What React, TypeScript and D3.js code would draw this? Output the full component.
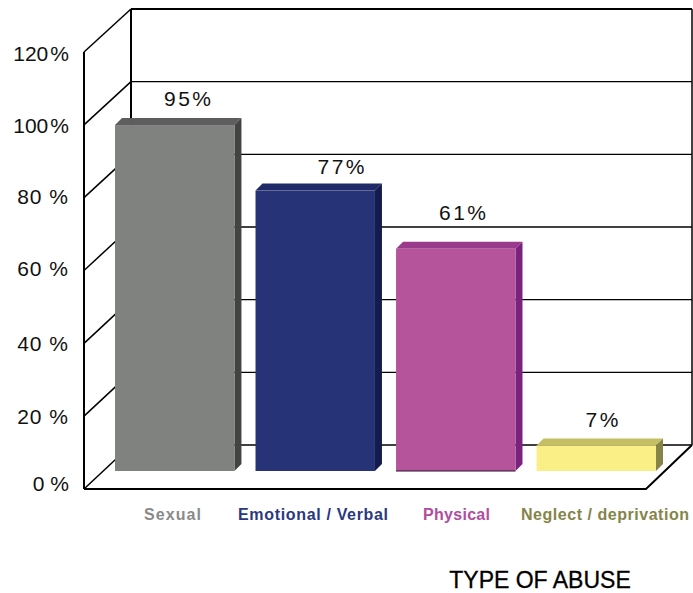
import React from 'react';
import * as d3 from 'd3';

const categories = ['Sexual', 'Emotional / Verbal', 'Physical', 'Neglect / deprivation'];
const values = [95, 77, 61, 7];
const valueLabels = ['95%', '77%', '61%', '7%'];
const yTicks = [0, 20, 40, 60, 80, 100, 120];
const frontColours = ['#808280', '#273377', '#b6549b', '#faee86'];
const topColours = ['#5e5e5e', '#1f2a66', '#9a3a8a', '#c4bf63'];
const sideColours = ['#434343', '#141c4e', '#7b2180', '#858549'];
const labelColours = ['#8a8a8a', '#2b3880', '#b04da0', '#858549'];

const width = 693;
const height = 593;
const font = '"Liberation Sans", Arial, sans-serif';

// front edge of the chart floor, back wall has its own scale
const y = d3.scaleLinear().domain([0, 120]).range([489, 52]);
const yBack = d3.scaleLinear().domain([0, 120]).range([445, 9]);
const yLabel = d3.scaleLinear().domain([0, 120]).range([491, 61]);
const x = d3.scaleBand<string>().domain(categories).range([115, 656]).paddingInner(0.15);
const frontLeft = 84;
const frontRight = 646;
const backLeft = 131;
const backRight = 692;
const barLift = 18;
const barDepth = 7;

// hand nudges, the labels in the source are not evenly placed
const tickNudge: Record<number, number> = { 20: 5, 40: 3 };
const valueDx = [14, 27, 8, 7];
const valueDy = [-19, -17, -29, -19];
const labelCentre = [172.5, 313, 456.5, 605];
const labelWidth = [57, 150, 67, 168];

const App = () => {
  const barY = (v: number) => y(v) - barLift;
  const bw = x.bandwidth();
  const line = d3.line();

  return (
    <svg width={width} height={height} style={{ position: 'absolute', left: 0, top: 0, background: '#fff' }}>
      {/* walls */}
      {yTicks.map(t => (
        <g key={t} stroke="#000" fill="none">
          <line x1={backLeft} x2={backRight} y1={yBack(t)} y2={yBack(t)} strokeWidth={t === 120 ? 2 : 1.3} />
          <line x1={frontLeft} x2={backLeft} y1={y(t)} y2={yBack(t)} strokeWidth={1.5} />
        </g>
      ))}
      <line x1={frontLeft} x2={frontLeft} y1={y(0)} y2={y(120)} stroke="#000" strokeWidth={2} />
      <line x1={backLeft} x2={backLeft} y1={yBack(0)} y2={yBack(120)} stroke="#000" strokeWidth={2} />
      <line x1={backRight} x2={backRight} y1={yBack(0)} y2={yBack(120)} stroke="#000" strokeWidth={1.5} />
      {/* floor */}
      <path
        d={line([
          [frontLeft, y(0)],
          [frontRight, y(0)],
          [backRight, yBack(0)],
        ]) ?? ''}
        fill="none"
        stroke="#000"
        strokeWidth={2}
      />

      {/* y labels */}
      {yTicks.map(t => (
        <text
          key={t}
          x={69}
          y={yLabel(t) + (tickNudge[t] ?? 0)}
          textAnchor="end"
          fontFamily={font}
          fontSize={21}
          letterSpacing={t >= 100 || t === 0 ? 0 : 1}
          fill="#111"
        >
          {t >= 100 ? <>{t}<tspan dx={2}>%</tspan></> : `${t} %`}
        </text>
      ))}

      {/* bars */}
      {categories.map((c, i) => {
        const x0 = x(c) ?? 0;
        const top = barY(values[i]);
        const bottom = barY(0);
        return (
          <g key={c}>
            <path
              d={line([[x0, top], [x0 + barDepth, top - barDepth], [x0 + bw + barDepth, top - barDepth], [x0 + bw, top]]) + 'Z'}
              fill={topColours[i]}
            />
            <path
              d={line([[x0 + bw, top], [x0 + bw + barDepth, top - barDepth], [x0 + bw + barDepth, bottom - barDepth], [x0 + bw, bottom]]) + 'Z'}
              fill={sideColours[i]}
            />
            <rect x={x0} y={top} width={bw} height={bottom - top} fill={frontColours[i]} />
            {i === 2 && <line x1={x0} x2={x0 + bw} y1={bottom} y2={bottom} stroke="#2a1030" strokeWidth={1.2} />}
            <text
              x={x0 + bw / 2 + valueDx[i]}
              y={top + valueDy[i]}
              textAnchor="middle"
              fontFamily={font}
              fontSize={21}
              letterSpacing={2.5}
              fill="#111"
            >
              {valueLabels[i]}
            </text>
            <text
              x={labelCentre[i]}
              y={520}
              textAnchor="middle"
              fontFamily={font}
              fontSize={16}
              fontWeight="bold"
              textLength={labelWidth[i]}
              lengthAdjust="spacing"
              fill={labelColours[i]}
            >
              {c}
            </text>
          </g>
        );
      })}

      <text x={540} y={588} textAnchor="middle" fontFamily={font} fontSize={23} fill="#000" stroke="#000" strokeWidth={0.3}>
        TYPE OF ABUSE
      </text>
    </svg>
  );
};

export default App;
